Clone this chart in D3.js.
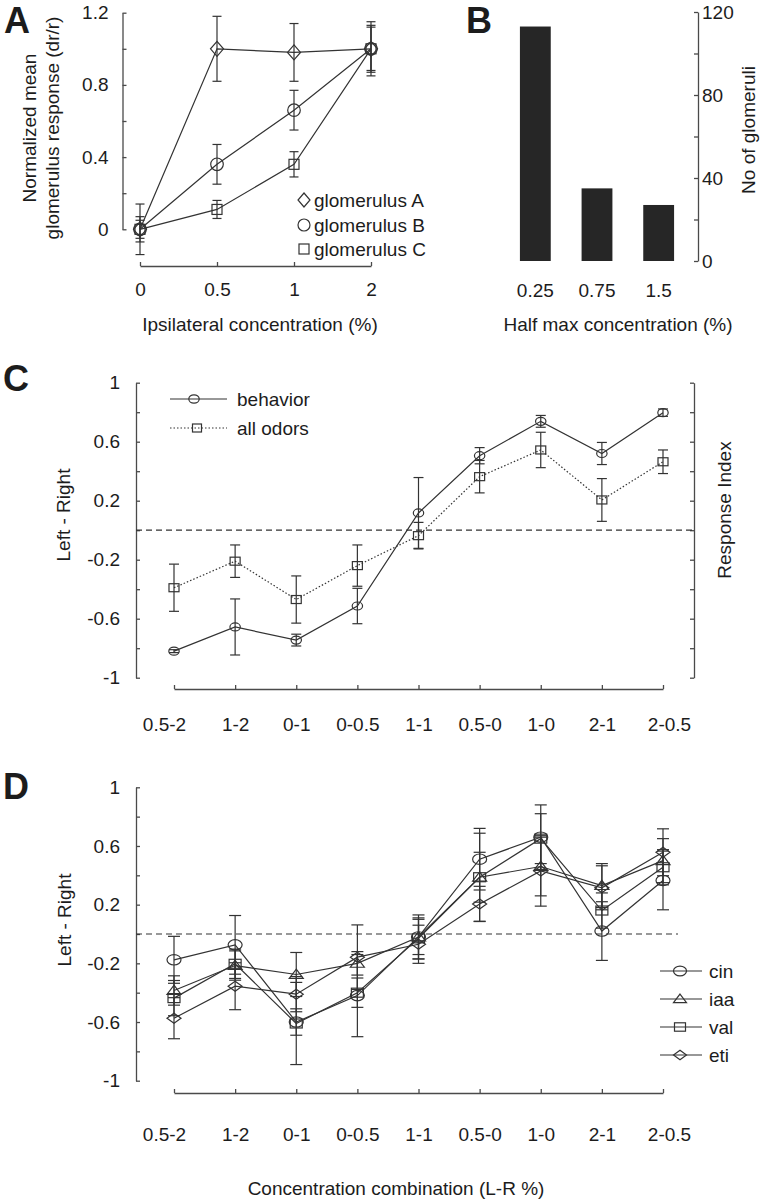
<!DOCTYPE html>
<html><head><meta charset="utf-8">
<script src="https://cdn.jsdelivr.net/npm/d3@7"></script>
<style>
body{margin:0;background:#fff;}
svg{display:block;}
</style></head><body>
<svg id="fig" width="760" height="1199"></svg>
<script>
// ---------- data ----------
// Panel A
const aConc = ["0", "0.5", "1", "2"];
const aGlomA = [0, 1.00, 0.98, 1.00];
const aGlomAErr = [0.14, 0.18, 0.16, 0.15];
const aGlomB = [0, 0.36, 0.66, 1.00];
const aGlomBErr = [0.05, 0.11, 0.11, 0.13];
const aGlomC = [0, 0.11, 0.36, 1.00];
const aGlomCErr = [0.07, 0.05, 0.07, 0.12];
const aYTicks = [0, 0.2, 0.4, 0.6, 0.8, 1.0, 1.2];
const aYLabels = [0, 0.4, 0.8, 1.2];

// Panel B
const bHalfMax = ["0.25", "0.75", "1.5"];
const bCounts = [113, 35, 27];
const bYTicks = [0, 20, 40, 60, 80, 100, 120];
const bYLabels = [0, 40, 80, 120];

// Panels C and D
const combos = ["0.5-2", "1-2", "0-1", "0-0.5", "1-1", "0.5-0", "1-0", "2-1", "2-0.5"];
const lrTicks = [-1, -0.8, -0.6, -0.4, -0.2, 0, 0.2, 0.4, 0.6, 0.8, 1];
const lrLabels = [-1, -0.6, -0.2, 0.2, 0.6, 1];

const cBehavior = [-0.82, -0.656, -0.745, -0.514, 0.117, 0.505, 0.738, 0.52, 0.797];
const cBehaviorErr = [0.01, 0.19, 0.04, 0.12, 0.24, 0.055, 0.04, 0.075, 0.025];
const cAllOdors = [-0.39, -0.21, -0.47, -0.24, -0.037, 0.363, 0.544, 0.205, 0.464];
const cAllOdorsErr = [0.16, 0.11, 0.16, 0.14, 0.09, 0.11, 0.12, 0.145, 0.08];

const dCin = [-0.176, -0.074, -0.60, -0.42, -0.02, 0.51, 0.66, 0.02, 0.365];
const dCinErr = [0.16, 0.20, 0.09, 0.28, 0.15, 0.21, 0.22, 0.20, 0.20];
const dIaa = [-0.385, -0.215, -0.276, -0.20, -0.02, 0.387, 0.46, 0.33, 0.50];
const dIaaErr = [0.10, 0.10, 0.15, 0.08, 0.12, 0.30, 0.20, 0.15, 0.15];
const dVal = [-0.437, -0.203, -0.61, -0.40, -0.03, 0.387, 0.65, 0.16, 0.455];
const dValErr = [0.12, 0.10, 0.28, 0.10, 0.14, 0.17, 0.17, 0.12, 0.12];
const dEti = [-0.574, -0.356, -0.41, -0.158, -0.07, 0.205, 0.43, 0.315, 0.557];
const dEtiErr = [0.14, 0.16, 0.12, 0.22, 0.13, 0.12, 0.24, 0.15, 0.16];

// ---------- style ----------
const FONT = '"Liberation Sans", Arial, Helvetica, sans-serif';
const TXT = "#1c1c1c", AX = "#4a4a4a", LN = "#333";
const FS = 19;

const svg = d3.select("#fig").attr("font-family", FONT);

function styleAxis(g, hideLabels) {
  g.attr("font-family", FONT).attr("font-size", FS);
  g.selectAll(".domain").attr("stroke", AX).attr("stroke-width", 1.3);
  g.selectAll(".tick line").attr("stroke", AX).attr("stroke-width", 1.3);
  g.selectAll(".tick text").attr("fill", TXT);
  if (hideLabels) g.selectAll(".tick text").remove();
}
const fmt = d => String(+(+d).toFixed(2));
function labelFmt(list) {
  return d => list.some(v => Math.abs(v - d) < 1e-9) ? fmt(d) : "";
}
function text(x, y, str, opts = {}) {
  const t = svg.append("text").attr("x", x).attr("y", y).text(str)
    .attr("font-size", opts.size || FS).attr("fill", TXT)
    .attr("text-anchor", opts.anchor || "middle");
  if (opts.weight) t.attr("font-weight", opts.weight);
  if (opts.rotate) t.attr("transform", `rotate(${opts.rotate},${x},${y})`);
  if (opts.dy) t.attr("dy", opts.dy);
  return t;
}
function marker(g, shape, cx, cy, s) {
  let m;
  if (shape === "circle") {
    m = g.append("ellipse").attr("cx", cx).attr("cy", cy).attr("rx", s.w).attr("ry", s.h);
  } else if (shape === "square") {
    m = g.append("rect").attr("x", cx - s.w).attr("y", cy - s.h).attr("width", 2 * s.w).attr("height", 2 * s.h);
  } else if (shape === "diamond") {
    m = g.append("path").attr("d", `M${cx},${cy - s.h}L${cx + s.w},${cy}L${cx},${cy + s.h}L${cx - s.w},${cy}Z`);
  } else if (shape === "triangle") {
    m = g.append("path").attr("d", `M${cx},${cy - s.h * 1.15}L${cx + s.w},${cy + s.h * 0.85}L${cx - s.w},${cy + s.h * 0.85}Z`);
  }
  m.attr("fill", "none").attr("stroke", LN).attr("stroke-width", 1.2);
}
function series(g, x, y, cats, vals, errs, shape, s, opts = {}) {
  const line = d3.line().x((d, i) => x(cats[i])).y(d => y(d));
  const p = g.append("path").datum(vals).attr("d", line).attr("fill", "none")
    .attr("stroke", LN).attr("stroke-width", opts.lw || 1.2);
  if (opts.dash) p.attr("stroke-dasharray", opts.dash);
  const cap = opts.cap || 5;
  vals.forEach((v, i) => {
    const cx = x(cats[i]);
    const y1 = y(v - errs[i]), y2 = y(v + errs[i]);
    g.append("line").attr("x1", cx).attr("x2", cx).attr("y1", y1).attr("y2", y2).attr("stroke", LN).attr("stroke-width", 1.2);
    [y1, y2].forEach(yy => g.append("line").attr("x1", cx - cap).attr("x2", cx + cap).attr("y1", yy).attr("y2", yy).attr("stroke", LN).attr("stroke-width", 1.2));
  });
  vals.forEach((v, i) => marker(g, shape, x(cats[i]), y(v), s));
}

// ---------- Panel A ----------
{
  const g = svg.append("g");
  const x = d3.scalePoint().domain(aConc).range([140, 371]);
  const y = d3.scaleLinear().domain([-0.2, 1.2]).range([265.4, 12.7]);
  const yAx = y.copy().domain([0, 1.2]).range([y(0), y(1.2)]);
  g.append("g").attr("transform", "translate(122.5,0)")
    .call(d3.axisLeft(yAx).tickValues(aYTicks).tickFormat(labelFmt(aYLabels)).tickSizeInner(-4).tickSizeOuter(0).tickPadding(14))
    .call(a => styleAxis(a));
  g.append("g").attr("transform", "translate(0,266)")
    .call(d3.axisBottom(x).tickSizeInner(-4).tickSizeOuter(0).tickPadding(17))
    .call(a => styleAxis(a));
  series(g, x, y, aConc, aGlomC, aGlomCErr, "square", {w: 5, h: 5}, {cap: 4.5});
  series(g, x, y, aConc, aGlomB, aGlomBErr, "circle", {w: 6.3, h: 6.3}, {cap: 4.5});
  series(g, x, y, aConc, aGlomA, aGlomAErr, "diamond", {w: 6.5, h: 7.5}, {cap: 4.5});
  // legend
  const leg = [["diamond", "glomerulus A", 200, {w: 6, h: 7}], ["circle", "glomerulus B", 225, {w: 6, h: 6}], ["square", "glomerulus C", 249, {w: 5, h: 5}]];
  leg.forEach(([sh, lab, yy, s]) => {
    marker(g, sh, 304, yy, s);
    text(314, yy, lab, {anchor: "start", dy: "0.35em"});
  });
  text(260, 331, "Ipsilateral concentration (%)");
  text(36, 128, "Normalized mean", {rotate: -90});
  text(59, 128, "glomerulus response (dr/r)", {rotate: -90});
  text(4, 33, "A", {anchor: "start", size: 36, weight: "bold"});
}

// ---------- Panel B ----------
{
  const g = svg.append("g");
  const x = d3.scaleBand().domain(bHalfMax).range([504.5, 689.5]).paddingInner(0.5).paddingOuter(0.25);
  const y = d3.scaleLinear().domain([0, 120]).range([261, 12]);
  g.selectAll("rect.bar").data(bCounts).join("rect").attr("class", "bar")
    .attr("x", (d, i) => x(bHalfMax[i])).attr("width", x.bandwidth())
    .attr("y", d => y(d)).attr("height", d => y(0) - y(d)).attr("fill", "#262626");
  g.append("g").attr("transform", "translate(698,0)")
    .call(d3.axisRight(y).tickValues(bYTicks).tickFormat(labelFmt(bYLabels)).tickSizeInner(-4).tickSizeOuter(0).tickPadding(4))
    .call(a => styleAxis(a));
  bHalfMax.forEach(c => text(x(c) + x.bandwidth() / 2, 290, c, {dy: "0.35em"}));
  text(618, 331, "Half max concentration (%)");
  text(748, 130, "No of glomeruli", {rotate: -90, dy: "0.35em"});
  text(466, 33, "B", {anchor: "start", size: 36, weight: "bold"});
}

// ---------- Panel C / D common ----------
function lrPanel(top, bottom, xAxisY, labelPad, rightAxis) {
  const g = svg.append("g");
  const x = d3.scalePoint().domain(combos).range([174, 663]);
  const y = d3.scaleLinear().domain([-1, 1]).range([bottom, top]);
  g.append("g").attr("transform", "translate(136,0)")
    .call(d3.axisLeft(y).tickValues(lrTicks).tickFormat(labelFmt(lrLabels)).tickSizeInner(-4).tickSizeOuter(0).tickPadding(16))
    .call(a => styleAxis(a));
  if (rightAxis) {
    g.append("g").attr("transform", "translate(694,0)")
      .call(d3.axisRight(y).tickValues(lrTicks).tickFormat("").tickSizeInner(-4).tickSizeOuter(0))
      .call(a => styleAxis(a, true));
  }
  const xa = g.append("g").attr("transform", `translate(0,${xAxisY})`)
    .call(d3.axisBottom(x).tickSizeInner(-4).tickSizeOuter(0).tickPadding(labelPad))
    .call(a => styleAxis(a));
  xa.selectAll(".tick text").attr("dx", (d, i) => i === 0 ? -10 : (i === combos.length - 1 ? 6 : 0));
  return {g, x, y};
}

// ---------- Panel C ----------
{
  const {g, x, y} = lrPanel(382.7, 677.7, 689, 29, true);
  g.append("line").attr("x1", 136).attr("x2", 694).attr("y1", y(0)).attr("y2", y(0))
    .attr("stroke", LN).attr("stroke-width", 1.2).attr("stroke-dasharray", "6,4");
  series(g, x, y, combos, cAllOdors, cAllOdorsErr, "square", {w: 5, h: 4}, {dash: "1.5,2", cap: 5});
  series(g, x, y, combos, cBehavior, cBehaviorErr, "circle", {w: 5.2, h: 4}, {cap: 5});
  // legend
  g.append("line").attr("x1", 170).attr("x2", 227).attr("y1", 399).attr("y2", 399).attr("stroke", LN).attr("stroke-width", 1.2);
  marker(g, "circle", 194, 399, {w: 5.2, h: 4.2});
  text(237, 399, "behavior", {anchor: "start", dy: "0.35em"});
  g.append("line").attr("x1", 170).attr("x2", 227).attr("y1", 428).attr("y2", 428).attr("stroke", LN).attr("stroke-width", 1.2).attr("stroke-dasharray", "1.5,2");
  marker(g, "square", 197, 428, {w: 4.5, h: 4});
  text(237, 428, "all odors", {anchor: "start", dy: "0.35em"});
  text(63, 515, "Left - Right", {rotate: -90, dy: "0.35em"});
  text(724, 510, "Response Index", {rotate: -90, dy: "0.35em"});
  text(3, 391, "C", {anchor: "start", size: 36, weight: "bold"});
}

// ---------- Panel D ----------
{
  const {g, x, y} = lrPanel(787.3, 1080.7, 1093, 35, false);
  g.append("line").attr("x1", 136).attr("x2", 678).attr("y1", y(0)).attr("y2", y(0))
    .attr("stroke", LN).attr("stroke-width", 1.2).attr("stroke-dasharray", "6,4");
  series(g, x, y, combos, dEti, dEtiErr, "diamond", {w: 7, h: 5}, {cap: 6});
  series(g, x, y, combos, dVal, dValErr, "square", {w: 6, h: 4.5}, {cap: 6});
  series(g, x, y, combos, dIaa, dIaaErr, "triangle", {w: 7, h: 4.6}, {cap: 6});
  series(g, x, y, combos, dCin, dCinErr, "circle", {w: 7, h: 5.2}, {cap: 6});
  const leg = [["circle", "cin", 971, {w: 6.5, h: 4.8}], ["triangle", "iaa", 999, {w: 6.5, h: 4.3}], ["square", "val", 1027, {w: 5.5, h: 4.2}], ["diamond", "eti", 1055, {w: 6.5, h: 4.8}]];
  leg.forEach(([sh, lab, yy, s]) => {
    g.append("line").attr("x1", 660).attr("x2", 702).attr("y1", yy).attr("y2", yy).attr("stroke", LN).attr("stroke-width", 1.2);
    marker(g, sh, 680, yy, s);
    text(709, yy, lab, {anchor: "start", dy: "0.35em"});
  });
  text(64, 920, "Left - Right", {rotate: -90, dy: "0.35em"});
  text(396, 1188, "Concentration combination (L-R %)", {dy: "0.35em"});
  text(3, 799, "D", {anchor: "start", size: 36, weight: "bold"});
}
</script></body></html>
